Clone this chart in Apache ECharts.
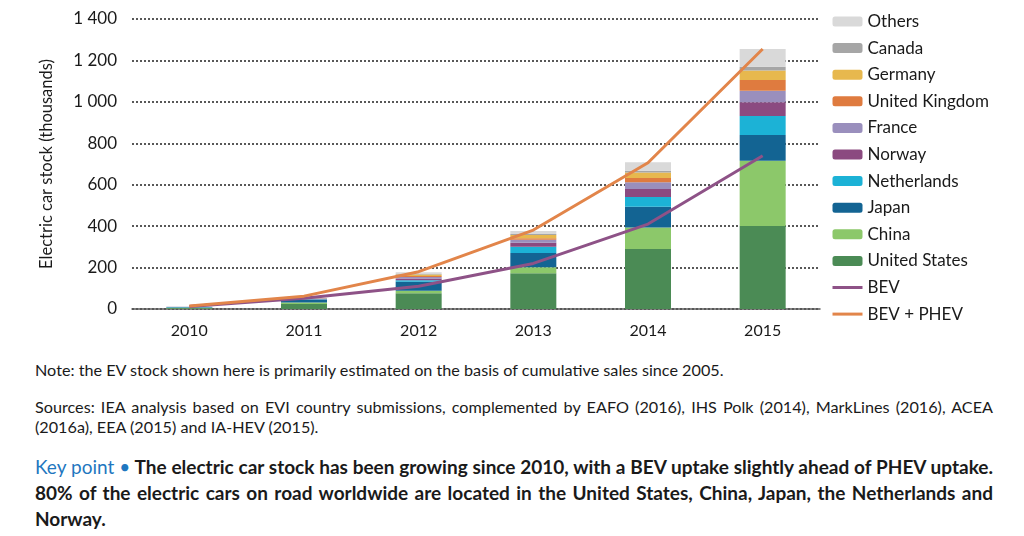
<!DOCTYPE html>
<html>
<head>
<meta charset="utf-8">
<script src="https://cdn.jsdelivr.net/npm/echarts@6/dist/echarts.min.js"></script>
<style>
  html, body { margin: 0; padding: 0; background: #fff; }
  #wrap { position: relative; width: 1024px; height: 536px; overflow: hidden; }
  #chart { position: absolute; left: 0; top: 0; width: 1024px; height: 350px; }
  .txt { position: absolute; left: 35px; width: 958px; font-family: Lato, "Open Sans", sans-serif; color: #1a1a1a; }
  #note { top: 360px; font-size: 16.2px; }
  #src { top: 397px; font-size: 16.2px; line-height: 20px; text-align: justify; }
  #key { top: 454px; font-size: 19px; line-height: 26px; font-weight: bold; text-align: justify; }
  #key span { color: #1f77c0; font-weight: normal; }
</style>
</head>
<body>
<div id="wrap">
  <div id="chart"></div>
  <div class="txt" id="note">Note: the EV stock shown here is primarily estimated on the basis of cumulative sales since 2005.</div>
  <div class="txt" id="src">Sources: IEA analysis based on EVI country submissions, complemented by EAFO (2016), IHS Polk (2014), MarkLines (2016), ACEA (2016a), EEA (2015) and IA-HEV (2015).</div>
  <div class="txt" id="key"><span>Key point •</span> The electric car stock has been growing since 2010, with a BEV uptake slightly ahead of PHEV uptake. 80% of the electric cars on road worldwide are located in the United States, China, Japan, the Netherlands and Norway.</div>
</div>
<script>
// Data (thousands of vehicles)
const years = ['2010', '2011', '2012', '2013', '2014', '2015'];
const unitedStates = [4, 24, 76, 172, 290, 401];
const china = [2, 7, 12, 30, 104, 315];
const japan = [3, 14, 44, 68, 100, 124];
const netherlands = [0.5, 1.5, 7, 30, 47, 92];
const norway = [0.5, 2, 8, 20, 38, 66];
const france = [0.3, 2, 8, 14, 33, 56];
const unitedKingdom = [0.3, 1, 4, 8, 20, 52];
const germany = [0.3, 1, 7, 15, 27, 45];
const canada = [0.1, 0.5, 3, 5, 9, 19];
const others = [0.5, 1, 8, 14, 40, 85];
const bev = [12, 52, 110, 220, 410, 740];
const bevPhev = [14, 62, 180, 381, 706, 1255];
const yTicks = [0, 200, 400, 600, 800, 1000, 1200, 1400];

const chart = echarts.init(document.getElementById('chart'));
const font = 'Lato, "Open Sans", sans-serif';

const barDefs = [
  ['United States', unitedStates, '#4b8b55'],
  ['China', china, '#8cc86a'],
  ['Japan', japan, '#136493'],
  ['Netherlands', netherlands, '#1cb2d6'],
  ['Norway', norway, '#8b4a80'],
  ['France', france, '#9a8fbd'],
  ['United Kingdom', unitedKingdom, '#df7b3f'],
  ['Germany', germany, '#e7b84e'],
  ['Canada', canada, '#a6a6a6'],
  ['Others', others, '#d9d9d9']
];

const series = barDefs.map(([name, data, color]) => ({
  name, type: 'bar', stack: 'stock', data, barWidth: 46,
  itemStyle: { color }, emphasis: { disabled: true }
}));
series.push({
  name: 'BEV', type: 'line', data: bev, symbol: 'none', z: 5,
  lineStyle: { color: '#8e5287', width: 3 }, itemStyle: { color: '#8e5287' }
});
series.push({
  name: 'BEV + PHEV', type: 'line', data: bevPhev, symbol: 'none', z: 5,
  lineStyle: { color: '#e2854a', width: 3 }, itemStyle: { color: '#e2854a' }
});

const legendOrder = barDefs.map(d => d[0]).reverse().map(n => ({ name: n }))
  .concat([
    { name: 'BEV', itemStyle: { opacity: 0 }, lineStyle: { width: 3 } },
    { name: 'BEV + PHEV', itemStyle: { opacity: 0 }, lineStyle: { width: 3 } }
  ]);

chart.setOption({
  animation: false,
  textStyle: { fontFamily: font },
  grid: { left: 132, right: 204, top: 19, bottom: 41 },
  legend: {
    data: legendOrder, orient: 'vertical', left: 826, top: 8,
    itemWidth: 30, itemHeight: 10, itemGap: 9.6,
    textStyle: { fontSize: 17, color: '#1a1a1a', fontFamily: font }
  },
  xAxis: {
    type: 'category', data: years,
    axisTick: { show: false },
    axisLine: { lineStyle: { color: '#595959', width: 1.5 } },
    axisLabel: { fontSize: 16, color: '#1a1a1a', margin: 14 }
  },
  yAxis: {
    type: 'value', min: yTicks[0], max: yTicks[yTicks.length - 1], interval: 200,
    name: 'Electric car stock (thousands)', nameLocation: 'middle', nameGap: 77,
    nameTextStyle: { fontSize: 16.5, color: '#1a1a1a' },
    axisLabel: {
      fontSize: 17, color: '#1a1a1a', margin: 15,
      formatter: v => String(v).replace(/\B(?=(\d{3})+(?!\d))/g, ' ')
    },
    splitLine: { lineStyle: { type: [2, 2], color: '#222', width: 1.5 } },
    axisLine: { show: false }, axisTick: { show: false }
  },
  series
});
</script>
</body>
</html>
